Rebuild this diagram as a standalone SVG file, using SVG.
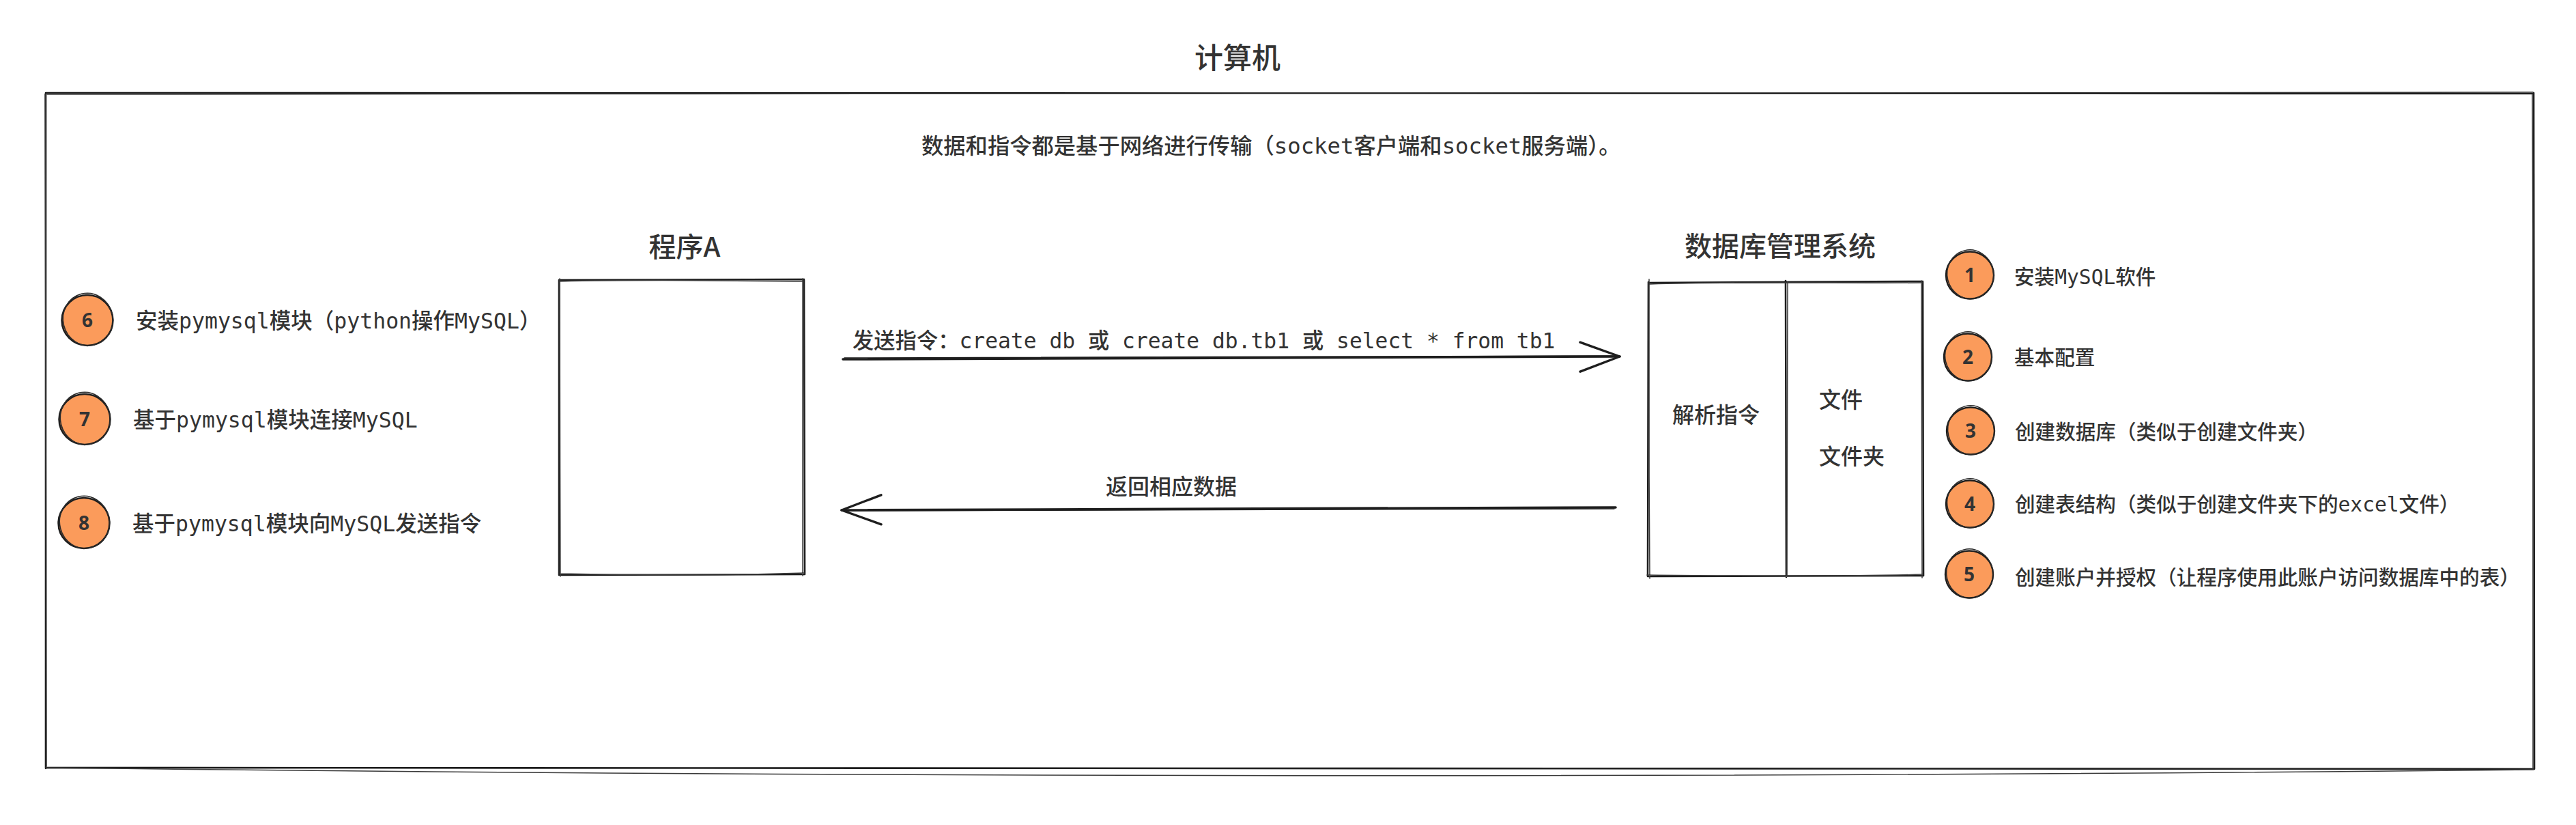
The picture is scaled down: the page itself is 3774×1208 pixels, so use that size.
<svg xmlns="http://www.w3.org/2000/svg" width="3774" height="1208" viewBox="0 0 3774 1208">
<defs>
<style>
.s{fill:none;stroke:#1e1e1e;stroke-linecap:round;stroke-linejoin:round}
.w{stroke-width:2.6}
.w2{stroke-width:1.5;stroke:#3a3a3a}
.t{font-family:"Noto Sans CJK SC","Noto Sans",sans-serif;font-weight:500;fill:#333}
.m{font-family:"DejaVu Sans Mono","Liberation Mono","Noto Sans CJK SC",monospace;font-weight:normal}
.badge{fill:#fb9b5b;stroke:#1e1e1e;stroke-width:2.4}
.badge2{fill:none;stroke:#2a2a2a;stroke-width:1.5}
.num{font-family:"Noto Sans","DejaVu Sans",sans-serif;font-weight:bold;font-size:28px;fill:#333;text-anchor:middle}
.arrow{fill:none;stroke:#1e1e1e;stroke-width:3.6;stroke-linecap:round}
.arrow2{fill:none;stroke:#1e1e1e;stroke-width:1.4;stroke-linecap:round}
</style>
<marker id="head" markerUnits="userSpaceOnUse" viewBox="-62 -26 66 52" markerWidth="66" markerHeight="52" refX="0" refY="0" orient="auto" overflow="visible">
<path d="M-58 -21 L0 0 L-58 22" fill="none" stroke="#1e1e1e" stroke-width="3.4" stroke-linecap="round" stroke-linejoin="round"/>
</marker>
<g id="badgeShape">
<ellipse cx="0" cy="0" rx="35" ry="34.5" class="badge"/>
<ellipse cx="1" cy="-1" rx="34" ry="36" transform="rotate(-14)" class="badge2"/>
</g>
</defs>
<rect x="0" y="0" width="3774" height="1208" fill="#ffffff"/>

<g id="computer">
<path class="s w" d="M67 136 L3712 137 M3712 136 L3713 1126 M3713 1126 L67 1124 M67 1125 L67 136"/>
<path class="s w2" d="M69 138 C1200 135 2600 139 3711 135 M3710 138 C3712 500 3711 900 3711 1127 M3712 1127 Q1890 1146 67 1124 M68 1122 C67 800 68 400 66 138"/>
<text class="t" x="1813" y="100" font-size="42" text-anchor="middle">计算机</text>
<text class="t" x="1350" y="225" font-size="32.3">数据和指令都是基于网络进行传输（<tspan class="m">socket</tspan>客户端和<tspan class="m">socket</tspan>服务端）。</text>
</g>

<g id="programA">
<text class="t" x="1003" y="376" font-size="40" text-anchor="middle">程序A</text>
<path class="s w" d="M819 410 L1178 409 M1178 410 L1179 841 M1179 841 L819 842 M819 842 L819 410"/>
<path class="s w2" d="M821 412 C950 409 1080 411 1177 412 M1176 408 C1175 600 1176 760 1176 843 M1178 839 C1060 843 920 842 821 840 M821 844 C820 700 821 520 820 408"/>
</g>

<g id="dbms">
<text class="t" x="2608" y="375" font-size="40" text-anchor="middle">数据库管理系统</text>
<path class="s w" d="M2415 414 L2817 412 M2817 413 L2818 843 M2818 843 L2415 844 M2414 844 L2415 413 M2616 411 L2617 845"/>
<path class="s w2" d="M2417 416 C2550 412 2700 415 2816 414 M2815 411 C2816 600 2816 760 2816 846 M2817 841 C2700 845 2520 843 2413 842 M2417 847 C2416 700 2415 520 2416 409 M2619 413 C2618 600 2619 760 2618 842"/>
<text class="t" x="2514" y="619" font-size="32" text-anchor="middle">解析指令</text>
<text class="t" x="2665" y="597" font-size="32">文件</text>
<text class="t" x="2665" y="680" font-size="32">文件夹</text>
</g>

<g id="step1">
<use href="#badgeShape" x="2886" y="403"/>
<text class="num" x="2886" y="413">1</text>
<text class="t" x="2951" y="416" font-size="29.6">安装<tspan class="m">MySQL</tspan>软件</text>
</g>
<g id="step2">
<use href="#badgeShape" x="2883" y="523"/>
<text class="num" x="2883" y="533">2</text>
<text class="t" x="2951" y="534" font-size="29.6">基本配置</text>
</g>
<g id="step3">
<use href="#badgeShape" x="2887" y="631"/>
<text class="num" x="2887" y="641">3</text>
<text class="t" x="2952" y="643" font-size="29.6">创建数据库（类似于创建文件夹）</text>
</g>
<g id="step4">
<use href="#badgeShape" x="2886" y="738"/>
<text class="num" x="2886" y="748">4</text>
<text class="t" x="2952" y="749" font-size="29.6">创建表结构（类似于创建文件夹下的<tspan class="m">excel</tspan>文件）</text>
</g>
<g id="step5">
<use href="#badgeShape" x="2885" y="841"/>
<text class="num" x="2885" y="851">5</text>
<text class="t" x="2952" y="856" font-size="29.6">创建账户并授权（让程序使用此账户访问数据库中的表）</text>
</g>

<g id="step6">
<use href="#badgeShape" transform="translate(128 469) scale(1.07)"/>
<text class="num" x="128" y="479">6</text>
<text class="t" x="199" y="481" font-size="31.5">安装<tspan class="m">pymysql</tspan>模块（<tspan class="m">python</tspan>操作<tspan class="m">MySQL</tspan>）</text>
</g>
<g id="step7">
<use href="#badgeShape" transform="translate(124 614) scale(1.07)"/>
<text class="num" x="124" y="624">7</text>
<text class="t" x="195" y="626" font-size="31.5">基于<tspan class="m">pymysql</tspan>模块连接<tspan class="m">MySQL</tspan></text>
</g>
<g id="step8">
<use href="#badgeShape" transform="translate(123 766) scale(1.07)"/>
<text class="num" x="123" y="776">8</text>
<text class="t" x="194" y="778" font-size="31.5">基于<tspan class="m">pymysql</tspan>模块向<tspan class="m">MySQL</tspan>发送指令</text>
</g>

<g id="connectors">
<path class="arrow" d="M1235 526 L2373 522" marker-end="url(#head)"/>
<path class="arrow2" d="M1237 524 L2370 521"/>
<text class="t" x="1249" y="510" font-size="31.3">发送指令：<tspan class="m">create db </tspan>或<tspan class="m"> create db.tb1 </tspan>或<tspan class="m"> select * from tb1</tspan></text>
<path class="arrow" d="M2367 743 L1233 747" marker-end="url(#head)"/>
<path class="arrow2" d="M2365 745 L1236 748"/>
<text class="t" x="1620" y="724" font-size="32">返回相应数据</text>
</g>
</svg>
